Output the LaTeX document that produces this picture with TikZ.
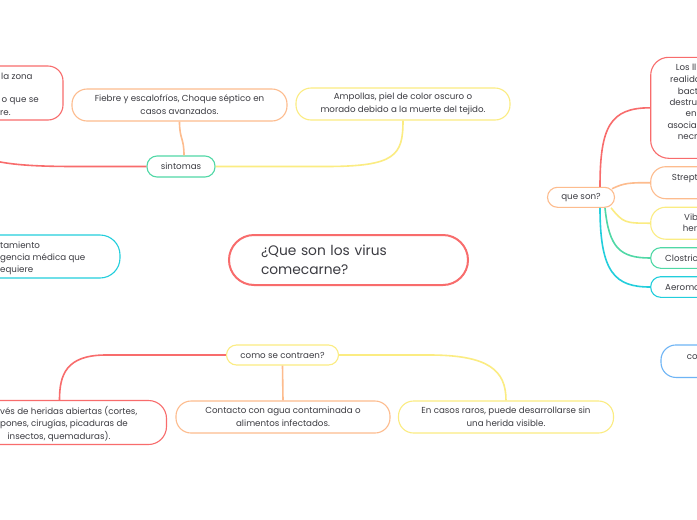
\documentclass[tikz,border=0pt]{standalone}
\usepackage{fontspec}
\setmainfont{Poppins}
\definecolor{cRed}{RGB}{248,108,108}
\definecolor{cOrange}{RGB}{253,188,142}
\definecolor{cYellow}{RGB}{251,236,130}
\definecolor{cGreen}{RGB}{80,216,166}
\definecolor{cTeal}{RGB}{34,206,220}
\definecolor{cBlue}{RGB}{110,180,245}
\definecolor{txt}{RGB}{60,60,66}
\tikzset{
  box/.style={draw, rounded corners=15pt, line width=1.1pt, inner sep=0pt, fill=white,
     font=\fontsize{8.7}{12.8}\selectfont, text=txt, align=center},
  pill/.style={box, rounded corners=10pt},
  frag/.style={inner sep=0pt, font=\fontsize{8.7}{12.8}\selectfont, text=txt, anchor=base west},
  conn/.style={line width=1.6pt},
}
\begin{document}
\begin{tikzpicture}[x=1pt,y=-1pt]
\fill[white] (0,0) rectangle (697,520);
\useasboundingbox (0,0) rectangle (697,520);
\clip (0,0) rectangle (697,520);

% central
\node[box, draw=cRed, line width=2pt, rounded corners=25pt, minimum width=239pt, minimum height=50pt,
  text width=175pt, align=left, font=\fontsize{13.8}{19}\selectfont] (central) at (348.5,260)
  {¿Que son los virus\\comecarne?};

% sintomas branch
\node[pill, draw=cGreen, minimum width=68pt, minimum height=21pt] (sintomas) at (181,166.5) {sintomas};
\node[box, draw=cOrange, minimum width=215pt, minimum height=32pt] (fiebre) at (179.5,105)
  {Fiebre y escalofríos, Choque séptico en\\casos avanzados.};
\node[box, draw=cYellow, minimum width=214pt, minimum height=32pt] (ampollas) at (403,104)
  {Ampollas, piel de color oscuro o\\morado debido a la muerte del tejido.};
\node[box, draw=cRed, minimum width=214pt, minimum height=54pt] (tl) at (-44,93) {};
\node[frag] (tl1) at (1,79) {la zona};
\node[frag] (tl2) at (1.5,102) {o que se};
\node[frag] (tl3) at (0,115) {re.};

% left teal
\node[box, draw=cTeal, rounded corners=20pt, minimum width=214pt, minimum height=43pt] (teal) at (13,256.5) {};
\node[frag] (te1) at (0,248) {tamiento};
\node[frag] (te2) at (0,260) {gencia médica que};
\node[frag] (te3) at (0,272) {equiere};

% como se contraen branch
\node[pill, draw=cYellow, minimum width=112pt, minimum height=20pt] (como) at (282.5,355) {como se contraen?};
\node[box, draw=cRed, rounded corners=18pt, minimum width=214pt, minimum height=44pt] (redBL) at (59.5,422.5) {};
\node[frag] (bl1) at (0,414) {vés de heridas abiertas (cortes,};
\node[frag] (bl2) at (0,426.5) {pones, cirugías, picaduras de};
\node[frag, anchor=base] (bl3) at (59,439) {insectos, quemaduras).};
\node[box, draw=cOrange, minimum width=214pt, minimum height=32pt] (contacto) at (283,417)
  {Contacto con agua contaminada o\\alimentos infectados.};
\node[box, draw=cYellow, minimum width=215pt, minimum height=32pt] (encasos) at (506,417)
  {En casos raros, puede desarrollarse sin\\una herida visible.};

% que son branch
\node[pill, draw=cOrange, minimum width=67pt, minimum height=20pt] (queson) at (581,197.3) {que son?};
\node[box, draw=cRed, rounded corners=18pt, minimum width=214pt, minimum height=101pt] (redR) at (757.7,107.8) {};
\node[frag] (r1) at (675.7,70.7) {Los ll};
\node[frag] (r2) at (670,82.2) {realida};
\node[frag] (r3) at (677.7,94) {bact};
\node[frag] (r4) at (669.3,105.3) {destru};
\node[frag] (r5) at (685.5,116.5) {en};
\node[frag] (r6) at (667.3,128) {asocia};
\node[frag] (r7) at (677.7,139.3) {necr};
\node[box, draw=cOrange, minimum width=214pt, minimum height=32pt] (strept) at (757.7,182.7) {};
\node[frag] (s1) at (671.7,180) {Strept};
\node[box, draw=cYellow, minimum width=214pt, minimum height=32pt] (vib) at (757.7,223.2) {};
\node[frag] (v1) at (684,220) {Vib};
\node[frag] (v2) at (682.7,231.5) {her};
\node[pill, draw=cGreen, minimum width=214pt, minimum height=20.6pt] (clostric) at (757.7,258) {};
\node[frag] (c1) at (665,261) {Clostric};
\node[pill, draw=cTeal, minimum width=214pt, minimum height=20.6pt] (aeromo) at (757.7,287) {};
\node[frag] (a1) at (665,290) {Aeromo};

% blue right
\node[box, draw=cBlue, minimum width=214pt, minimum height=32.5pt] (blue) at (768,361.2) {};
\node[frag] (b1) at (686.7,359) {co};

% connectors
\draw[conn, cRed] (sintomas.west) -- ++(-70,0) .. controls +(-80,0) and +(0,40) .. (tl.south);
\draw[conn, cOrange] ([xshift=3pt]sintomas.north) .. controls +(0,-18) and +(0,18) .. (fiebre.south);
\draw[conn, cYellow] (sintomas.east) -- ++(110,0) .. controls +(70,0) and +(0,35) .. (ampollas.south);

\draw[conn, cRed] (como.west) -- ++(-120,0) .. controls +(-40,0) and +(0,-25) .. (redBL.north);
\draw[conn, cOrange] (como.south) -- (contacto.north);
\draw[conn, cYellow] (como.east) -- ++(90,0) .. controls +(60,0) and +(0,-30) .. (encasos.north);

\draw[conn, cRed] ([xshift=19pt]queson.north) .. controls +(0,-60) and +(-40,0) .. (redR.west);
\draw[conn, cOrange] ([xshift=-3pt,yshift=-2pt]queson.north east) .. controls +(12,-6) and +(-20,0) .. (strept.west);
\draw[conn, cYellow] ([xshift=-4pt]queson.south east) .. controls +(12,15) and +(-25,0) .. (vib.west);
\draw[conn, cGreen] ([xshift=24pt]queson.south) .. controls +(4,40) and +(-30,0) .. (clostric.west);
\draw[conn, cTeal] ([xshift=19pt]queson.south) .. controls +(0,65) and +(-35,0) .. (aeromo.west);
\end{tikzpicture}
\end{document}
